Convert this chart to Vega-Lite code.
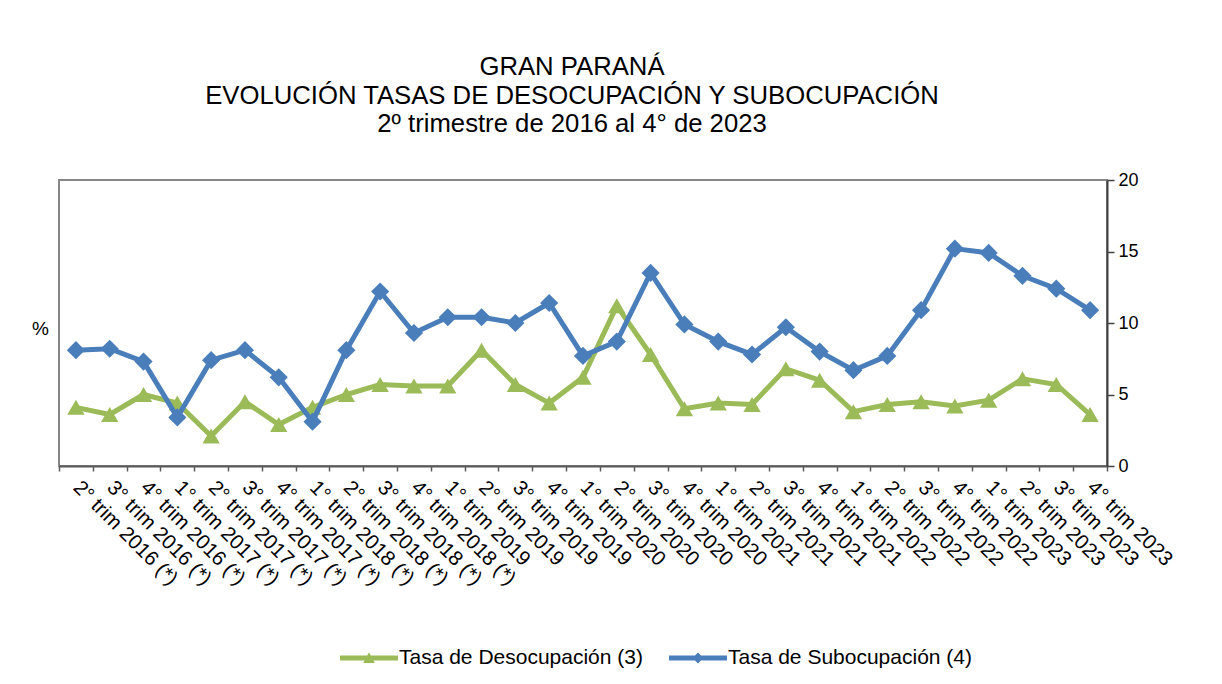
{
  "$schema": "https://vega.github.io/schema/vega-lite/v6.json",
  "width": 1048,
  "height": 286,
  "autosize": "none",
  "padding": {"left": 59, "top": 180, "right": 115, "bottom": 218},
  "background": "white",
  "title": {
    "text": ["GRAN PARANÁ", "EVOLUCIÓN TASAS DE DESOCUPACIÓN Y SUBOCUPACIÓN", "2º trimestre de 2016 al 4° de 2023"],
    "font": "Liberation Sans",
    "fontSize": 25.7,
    "fontWeight": "normal",
    "lineHeight": 28.5,
    "anchor": "middle",
    "offset": 33,
    "dx": -11,
    "color": "black"
  },
  "config": {
    "font": "Liberation Sans",
    "view": {"stroke": "#868686", "strokeWidth": 2}
  },
  "data": {
    "values": [
      {"p": "2° trim 2016 (*)", "Tasa de Desocupación (3)": 4.1, "Tasa de Subocupación (4)": 8.1},
      {"p": "3° trim 2016 (*)", "Tasa de Desocupación (3)": 3.6, "Tasa de Subocupación (4)": 8.2},
      {"p": "4° trim 2016 (*)", "Tasa de Desocupación (3)": 5.0, "Tasa de Subocupación (4)": 7.3},
      {"p": "1° trim 2017 (*)", "Tasa de Desocupación (3)": 4.4, "Tasa de Subocupación (4)": 3.4},
      {"p": "2° trim 2017 (*)", "Tasa de Desocupación (3)": 2.1, "Tasa de Subocupación (4)": 7.4},
      {"p": "3° trim 2017 (*)", "Tasa de Desocupación (3)": 4.5, "Tasa de Subocupación (4)": 8.1},
      {"p": "4° trim 2017 (*)", "Tasa de Desocupación (3)": 2.9, "Tasa de Subocupación (4)": 6.2},
      {"p": "1° trim 2018 (*)", "Tasa de Desocupación (3)": 4.1, "Tasa de Subocupación (4)": 3.1},
      {"p": "2° trim 2018 (*)", "Tasa de Desocupación (3)": 5.0, "Tasa de Subocupación (4)": 8.1},
      {"p": "3° trim 2018 (*)", "Tasa de Desocupación (3)": 5.7, "Tasa de Subocupación (4)": 12.2},
      {"p": "4° trim 2018 (*)", "Tasa de Desocupación (3)": 5.6, "Tasa de Subocupación (4)": 9.3},
      {"p": "1° trim 2019", "Tasa de Desocupación (3)": 5.6, "Tasa de Subocupación (4)": 10.4},
      {"p": "2° trim 2019", "Tasa de Desocupación (3)": 8.1, "Tasa de Subocupación (4)": 10.4},
      {"p": "3° trim 2019", "Tasa de Desocupación (3)": 5.7, "Tasa de Subocupación (4)": 10.0},
      {"p": "4° trim 2019", "Tasa de Desocupación (3)": 4.4, "Tasa de Subocupación (4)": 11.4},
      {"p": "1° trim 2020", "Tasa de Desocupación (3)": 6.2, "Tasa de Subocupación (4)": 7.7},
      {"p": "2° trim 2020", "Tasa de Desocupación (3)": 11.2, "Tasa de Subocupación (4)": 8.7},
      {"p": "3° trim 2020", "Tasa de Desocupación (3)": 7.8, "Tasa de Subocupación (4)": 13.5},
      {"p": "4° trim 2020", "Tasa de Desocupación (3)": 4.0, "Tasa de Subocupación (4)": 9.9},
      {"p": "1° trim 2021", "Tasa de Desocupación (3)": 4.4, "Tasa de Subocupación (4)": 8.7},
      {"p": "2° trim 2021", "Tasa de Desocupación (3)": 4.3, "Tasa de Subocupación (4)": 7.8},
      {"p": "3° trim 2021", "Tasa de Desocupación (3)": 6.8, "Tasa de Subocupación (4)": 9.7},
      {"p": "4° trim 2021", "Tasa de Desocupación (3)": 6.0, "Tasa de Subocupación (4)": 8.0},
      {"p": "1° trim 2022", "Tasa de Desocupación (3)": 3.8, "Tasa de Subocupación (4)": 6.7},
      {"p": "2° trim 2022", "Tasa de Desocupación (3)": 4.3, "Tasa de Subocupación (4)": 7.7},
      {"p": "3° trim 2022", "Tasa de Desocupación (3)": 4.5, "Tasa de Subocupación (4)": 10.9},
      {"p": "4° trim 2022", "Tasa de Desocupación (3)": 4.2, "Tasa de Subocupación (4)": 15.2},
      {"p": "1° trim 2023", "Tasa de Desocupación (3)": 4.6, "Tasa de Subocupación (4)": 14.9},
      {"p": "2° trim 2023", "Tasa de Desocupación (3)": 6.1, "Tasa de Subocupación (4)": 13.3},
      {"p": "3° trim 2023", "Tasa de Desocupación (3)": 5.7, "Tasa de Subocupación (4)": 12.4},
      {"p": "4° trim 2023", "Tasa de Desocupación (3)": 3.6, "Tasa de Subocupación (4)": 10.9}
    ]
  },
  "transform": [
    {"fold": ["Tasa de Desocupación (3)", "Tasa de Subocupación (4)"], "as": ["serie", "valor"]}
  ],
  "encoding": {
    "x": {
      "field": "p",
      "type": "nominal",
      "sort": null,
      "scale": {"type": "band", "paddingInner": 0, "paddingOuter": 0},
      "axis": {
        "title": null,
        "labelAngle": 45,
        "labelAlign": "left",
        "labelBaseline": "middle",
        "labelFontSize": 20.5,
        "labelColor": "black",
        "labelPadding": 13,
        "labelOverlap": false,
        "labelBound": false,
        "labelFlush": false,
        "labelLimit": 0,
        "tickBand": "extent",
        "tickSize": 5,
        "tickColor": "#595959",
        "tickWidth": 1.5,
        "domainColor": "#595959",
        "domainWidth": 2
      }
    },
    "y": {
      "field": "valor",
      "type": "quantitative",
      "scale": {"domain": [0, 20], "nice": false},
      "axis": {
        "orient": "right",
        "values": [0, 5, 10, 15, 20],
        "grid": false,
        "title": "%",
        "titleAngle": 0,
        "titleX": -1067,
        "titleY": 148,
        "titleAlign": "center",
        "titleBaseline": "middle",
        "titleFontSize": 19,
        "titleFontWeight": "normal",
        "titleColor": "black",
        "labelFontSize": 18,
        "labelColor": "black",
        "labelPadding": 4,
        "tickSize": 7,
        "tickColor": "#404040",
        "tickWidth": 1.5,
        "domainColor": "#404040",
        "domainWidth": 2
      }
    },
    "color": {
      "field": "serie",
      "type": "nominal",
      "scale": {
        "domain": ["Tasa de Desocupación (3)", "Tasa de Subocupación (4)"],
        "range": ["#9BBB59", "#4A7EBB"]
      },
      "legend": {
        "title": null,
        "orient": "none",
        "direction": "horizontal",
        "legendX": 281,
        "legendY": 449,
        "labelFontSize": 21,
        "labelColor": "black",
        "labelOffset": 1,
        "labelLimit": 0,
        "columnPadding": 26,
        "symbolSize": 3364,
        "encode": {
          "symbols": {
            "update": {
              "shape": {"signal": "datum.value === 'Tasa de Desocupación (3)' ? 'M-1,-0.085H1V0.085H-1Z M-0.2,0.17L0,-0.2L0.2,0.17Z' : 'M-1,-0.085H1V0.085H-1Z M-0.19,0L0,-0.19L0.19,0L0,0.19Z'"},
              "fill": {"signal": "datum.value === 'Tasa de Desocupación (3)' ? '#9BBB59' : '#4A7EBB'"},
              "stroke": {"value": "transparent"},
              "strokeWidth": {"value": 0},
              "size": {"value": 3364},
              "opacity": {"value": 1}
            }
          }
        }
      }
    }
  },
  "layer": [
    {
      "transform": [{"filter": "datum.serie === 'Tasa de Desocupación (3)'"}],
      "mark": {"type": "line", "strokeWidth": 5}
    },
    {
      "transform": [{"filter": "datum.serie === 'Tasa de Desocupación (3)'"}],
      "mark": {"type": "point", "shape": "triangle-up", "filled": true, "opacity": 1, "size": 300}
    },
    {
      "transform": [{"filter": "datum.serie === 'Tasa de Subocupación (4)'"}],
      "mark": {"type": "line", "strokeWidth": 5}
    },
    {
      "transform": [{"filter": "datum.serie === 'Tasa de Subocupación (4)'"}],
      "mark": {"type": "point", "shape": "diamond", "filled": true, "opacity": 1, "size": 330}
    }
  ]
}
